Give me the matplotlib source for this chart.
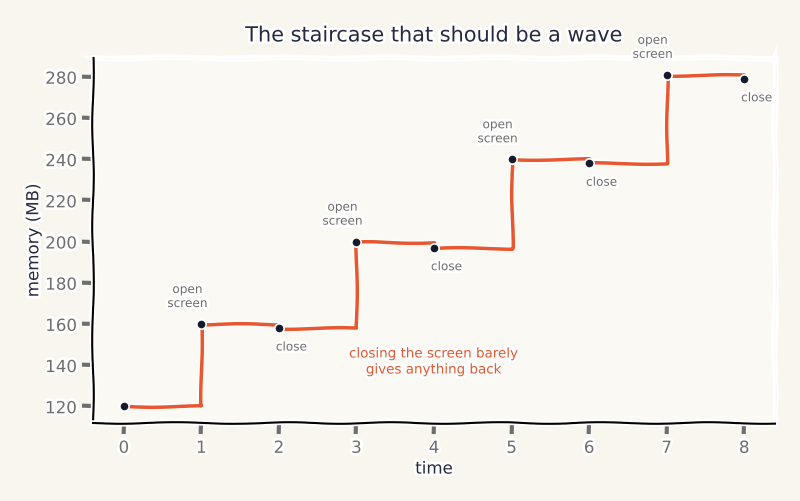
import matplotlib
matplotlib.use("Agg")
import matplotlib.pyplot as plt
import numpy as np

times = [0, 1, 2, 3, 4, 5, 6, 7, 8]
memory = [120, 160, 158, 200, 197, 240, 238, 281, 279]
open_idx = [1, 3, 5, 7]
close_idx = [2, 4, 6, 8]
title = "The staircase that should be a wave"
note = "closing the screen barely\ngives anything back"
yticks = [120, 140, 160, 180, 200, 220, 240, 260, 280]

FIG_BG = "#f9f6ef"
AX_BG = "#fbf9f4"
LINE = "#e8572f"
DOT = "#161a2e"
DARK = "#262a40"
GRAY = "#6e6e6e"

np.random.seed(3)
with plt.xkcd(scale=0.8, length=120, randomness=2):
    plt.rcParams['font.family'] = ['DejaVu Sans']
    fig, ax = plt.subplots(figsize=(8, 5.01), dpi=100)
    fig.patch.set_facecolor(FIG_BG)
    ax.set_facecolor(AX_BG)
    fig.subplots_adjust(left=0.116, right=0.969, top=0.884, bottom=0.156)

    ax.plot(times, memory, drawstyle='steps-post', color=LINE, lw=2.5, zorder=2)
    ax.scatter(times, memory, s=45, color=DOT, edgecolor='white', linewidth=1.2, zorder=3)

    for i in open_idx:
        ax.annotate("open\nscreen", (times[i], memory[i]), xytext=(-10, 10),
                    textcoords='offset points', ha='center', va='bottom',
                    fontsize=8.7, color=GRAY, linespacing=1.1)
    for i in close_idx:
        ax.annotate("close", (times[i], memory[i]), xytext=(9, -9),
                    textcoords='offset points', ha='center', va='top',
                    fontsize=8.7, color=GRAY)

    ax.text(4.0, 141.5, note, ha='center', va='center', fontsize=9.7, color=LINE,
            linespacing=1.3)

    ax.set_title(title, fontsize=15, color=DARK, pad=12)
    ax.set_xlabel("time", fontsize=12, color=DARK, labelpad=2)
    ax.set_ylabel("memory (MB)", fontsize=12, color=DARK, labelpad=2)
    ax.set_xticks(times)
    ax.set_yticks(yticks)
    ax.tick_params(colors=GRAY, labelsize=12, labelcolor=GRAY, length=8)
    for s in ['top', 'right']:
        ax.spines[s].set_color(AX_BG)
        ax.spines[s].set_linewidth(0.5)
    for s in ['left', 'bottom']:
        ax.spines[s].set_color('black')
        ax.spines[s].set_linewidth(1.5)
        ax.spines[s].set_zorder(4)

    fig.savefig("out.png", dpi=100, facecolor=FIG_BG)
